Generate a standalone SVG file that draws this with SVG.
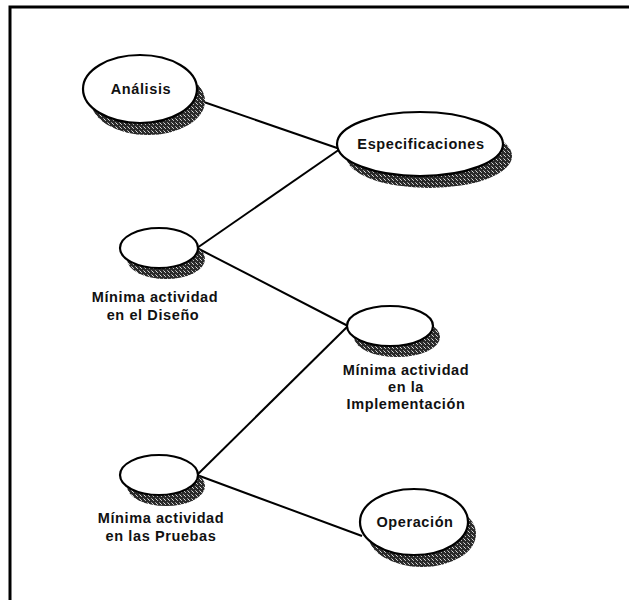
<svg xmlns="http://www.w3.org/2000/svg" width="629" height="600" viewBox="0 0 629 600">
  <defs>
    <!-- grainy dark fill used for the drop shadows -->
    <pattern id="grain" width="4" height="4" patternUnits="userSpaceOnUse">
      <rect width="4" height="4" fill="#2a2a2a"/>
      <rect x="1" y="0" width="1" height="1" fill="#bbbbbb"/>
      <rect x="3" y="2" width="1" height="1" fill="#999999"/>
      <rect x="0" y="3" width="1" height="1" fill="#dddddd"/>
    </pattern>
    <style>
      .shadow { fill: url(#grain); }
      .node { fill: #ffffff; stroke: #000000; stroke-width: 2.2; }
      .label { font-family: "Liberation Sans", Arial, sans-serif; font-weight: bold; font-size: 14.5px; letter-spacing: 0.6px; fill: #111111; text-anchor: middle; }
      .link { stroke: #000000; stroke-width: 2; fill: none; }
      .frame { stroke: #000000; stroke-width: 3; fill: none; }
    </style>
  </defs>

  <rect width="629" height="600" fill="#ffffff"/>

  <!-- outer frame: top and left edges -->
  <path class="frame" d="M10,600 V7 H629"/>

  <!-- connectors -->
  <g id="connectors">
    <line class="link" x1="198" y1="100" x2="340" y2="149"/>
    <line class="link" x1="197" y1="248" x2="340" y2="149"/>
    <line class="link" x1="197" y1="248" x2="348" y2="326"/>
    <line class="link" x1="348" y1="326" x2="197" y2="475"/>
    <line class="link" x1="197" y1="475" x2="362" y2="536"/>
  </g>

  <g id="analisis">
    <ellipse class="shadow" cx="148" cy="101" rx="57" ry="34"/>
    <ellipse class="node" cx="140" cy="89" rx="57" ry="34"/>
    <text class="label" x="141" y="94">Análisis</text>
  </g>

  <g id="especificaciones">
    <ellipse class="shadow" cx="429" cy="156" rx="83" ry="32"/>
    <ellipse class="node" cx="420" cy="144" rx="83" ry="32"/>
    <text class="label" x="421" y="149">Especificaciones</text>
  </g>

  <g id="diseno">
    <ellipse class="shadow" cx="166" cy="259" rx="39" ry="20"/>
    <ellipse class="node" cx="159" cy="248" rx="39" ry="20"/>
    <text class="label" x="155" y="302">Mínima actividad</text>
    <text class="label" x="153" y="320">en el Diseño</text>
  </g>

  <g id="implementacion">
    <ellipse class="shadow" cx="397" cy="337" rx="43" ry="20"/>
    <ellipse class="node" cx="390" cy="326" rx="43" ry="20"/>
    <text class="label" x="406" y="375">Mínima actividad</text>
    <text class="label" x="406" y="392">en la</text>
    <text class="label" x="406" y="409">Implementación</text>
  </g>

  <g id="pruebas">
    <ellipse class="shadow" cx="166" cy="486" rx="39" ry="20"/>
    <ellipse class="node" cx="159" cy="475" rx="39" ry="20"/>
    <text class="label" x="161" y="523">Mínima actividad</text>
    <text class="label" x="161" y="541">en las Pruebas</text>
  </g>

  <g id="operacion">
    <ellipse class="shadow" cx="422" cy="534" rx="54" ry="33"/>
    <ellipse class="node" cx="414" cy="522" rx="54" ry="33"/>
    <text class="label" x="415" y="527">Operación</text>
  </g>
</svg>
